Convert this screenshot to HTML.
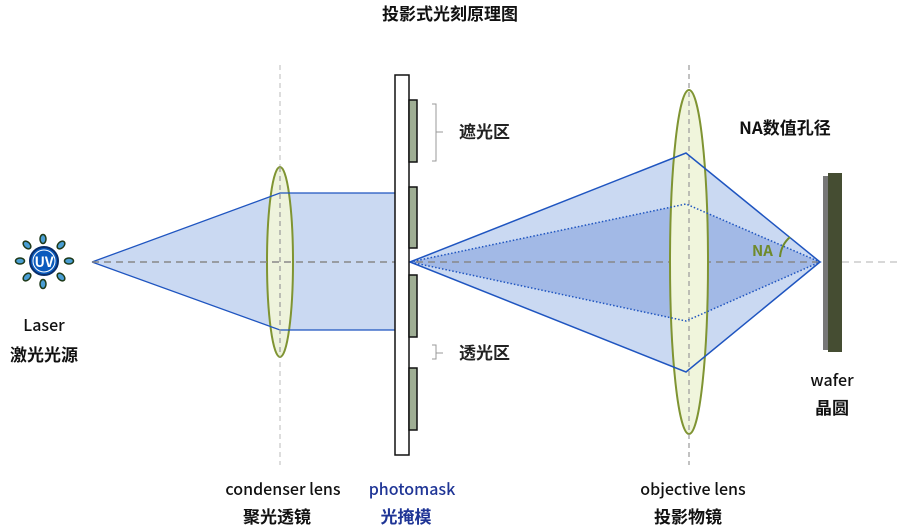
<!DOCTYPE html>
<html><head><meta charset="utf-8"><style>
html,body{margin:0;padding:0;background:#fff;}
svg{display:block;}
text{font-family:"Noto Sans CJK SC","Liberation Sans",sans-serif;}
</style></head><body>
<svg width="900" height="529" viewBox="0 0 900 529" xmlns="http://www.w3.org/2000/svg">
<line x1="280" y1="65" x2="280" y2="465" stroke="#bbb" stroke-width="1" stroke-dasharray="5,4"/>
<polygon points="92,262 280,193 395,193 395,330 280,330" fill="#cad9f2" stroke="none"/>
<ellipse cx="280" cy="262" rx="13" ry="95" fill="#eef3dc" stroke="#7f9432" stroke-width="2"/>
<polyline points="92,262 280,193 395,193" fill="none" stroke="#1f55c0" stroke-width="1.3"/>
<polyline points="92,262 280,330 395,330" fill="none" stroke="#1f55c0" stroke-width="1.3"/>
<line x1="280" y1="167" x2="280" y2="357" stroke="#999" stroke-width="1.2" stroke-dasharray="5,4"/>
<!-- right beam -->
<polygon points="410,262 686,153 820,262 686,372" fill="#cad9f2"/>
<polygon points="410,262 686,204 820,262 686,321" fill="#a2b9e6"/>
<line x1="92" y1="262" x2="820" y2="262" stroke="#888" stroke-width="1.5" stroke-dasharray="7,5"/>
<line x1="842" y1="262" x2="900" y2="262" stroke="#ccc" stroke-width="1.5" stroke-dasharray="7,5"/>
<ellipse cx="689" cy="262" rx="19" ry="172" fill="#f0f5dc" stroke="#7f9432" stroke-width="2"/>
<line x1="689" y1="65" x2="689" y2="465" stroke="#999" stroke-width="1.2" stroke-dasharray="5,4"/>
<polygon points="410,262 686,153 820,262 686,372" fill="none" stroke="#1f55c0" stroke-width="1.5"/>
<polygon points="410,262 686,204 820,262 686,321" fill="none" stroke="#1f55c0" stroke-width="1.5" stroke-dasharray="1.5,2"/>
<!-- mask -->
<rect x="395" y="75" width="14" height="380" fill="#fff" stroke="#111" stroke-width="1.5"/>
<g fill="#9fae94" stroke="#111" stroke-width="1.5">
<rect x="409" y="100" width="8" height="62"/>
<rect x="409" y="187" width="8" height="61"/>
<rect x="409" y="275" width="8" height="62"/>
<rect x="409" y="368" width="8" height="62"/>
</g>
<path d="M432,104 h4 v57 h-4 M436,132 h7" fill="none" stroke="#999" stroke-width="1"/>
<path d="M432,345 h4 v14 h-4 M436,353 h7" fill="none" stroke="#999" stroke-width="1"/>
<text x="459" y="138" font-size="17" font-weight="bold" fill="#222">遮光区</text>
<text x="459" y="359" font-size="17" font-weight="bold" fill="#222">透光区</text>
<rect x="823" y="176" width="5" height="174" fill="#777"/>
<rect x="828" y="173" width="14" height="179" fill="#454d32"/>
<path d="M790,237 Q781,245 780,257" fill="none" stroke="#6f8a2a" stroke-width="2"/>
<text x="752" y="256" font-size="15" font-weight="bold" fill="#6f8a2a">NA</text>
<text x="785" y="134" font-size="17" font-weight="bold" fill="#111" text-anchor="middle">NA数值孔径</text>
<g fill="#4a9ed4" stroke="#1f3a1a" stroke-width="1.5">
<ellipse cx="43" cy="239" rx="3" ry="4.5"/>
<ellipse cx="43" cy="284" rx="3" ry="4.5"/>
<ellipse cx="20" cy="261" rx="4.5" ry="3"/>
<ellipse cx="69" cy="261" rx="4.5" ry="3"/>
<ellipse cx="27" cy="245" rx="3" ry="4.5" transform="rotate(-45 27 245)"/>
<ellipse cx="61" cy="245" rx="3" ry="4.5" transform="rotate(45 61 245)"/>
<ellipse cx="27" cy="277" rx="3" ry="4.5" transform="rotate(45 27 277)"/>
<ellipse cx="61" cy="277" rx="3" ry="4.5" transform="rotate(-45 61 277)"/>
</g>
<circle cx="44" cy="261" r="14" fill="#0b5bbd" stroke="#0a2e6a" stroke-width="2"/>
<circle cx="44" cy="261" r="11" fill="none" stroke="#fff" stroke-width="1"/>
<text x="44" y="267" font-size="14" font-weight="bold" fill="#fff" text-anchor="middle">UV</text>
<text x="450" y="20" font-size="17" font-weight="bold" fill="#111" text-anchor="middle">投影式光刻原理图</text>
<text x="44" y="331" font-size="16" font-weight="500" fill="#111" text-anchor="middle">Laser</text>
<text x="44" y="361" font-size="17" font-weight="bold" fill="#111" text-anchor="middle">激光光源</text>
<text x="283" y="495" font-size="16" font-weight="500" fill="#111" text-anchor="middle">condenser lens</text>
<text x="277" y="523" font-size="17" font-weight="bold" fill="#111" text-anchor="middle">聚光透镜</text>
<text x="412" y="495" font-size="16" font-weight="500" fill="#1f3596" text-anchor="middle">photomask</text>
<text x="406" y="523" font-size="17" font-weight="bold" fill="#1f3596" text-anchor="middle">光掩模</text>
<text x="693" y="495" font-size="16" font-weight="500" fill="#111" text-anchor="middle">objective lens</text>
<text x="688" y="523" font-size="17" font-weight="bold" fill="#111" text-anchor="middle">投影物镜</text>
<text x="832" y="386" font-size="16" font-weight="500" fill="#111" text-anchor="middle">wafer</text>
<text x="832" y="414" font-size="17" font-weight="bold" fill="#111" text-anchor="middle">晶圆</text>
</svg>
</body></html>
